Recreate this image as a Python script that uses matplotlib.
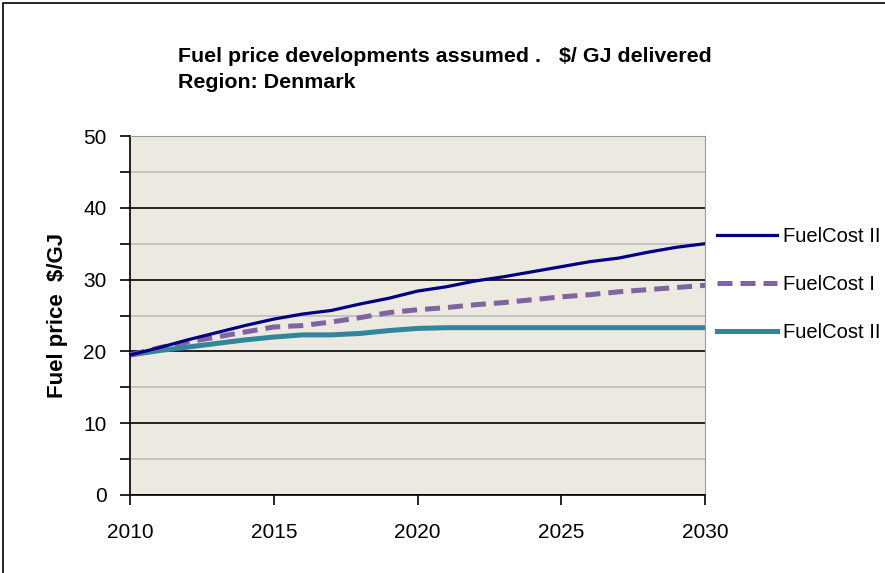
import matplotlib.pyplot as plt
from matplotlib.patches import Rectangle

plt.rcParams['font.family'] = ['Liberation Sans', 'DejaVu Sans']

years = list(range(2010, 2031))
fuel_cost_a = [19.5, 20.5, 21.6, 22.6, 23.6, 24.5, 25.2, 25.7, 26.6, 27.4, 28.4,
               29.0, 29.8, 30.4, 31.1, 31.8, 32.5, 33.0, 33.8, 34.5, 35.0]
fuel_cost_b = [19.5, 20.5, 21.3, 22.0, 22.7, 23.4, 23.6, 24.1, 24.7, 25.4, 25.8,
               26.1, 26.5, 26.8, 27.2, 27.6, 27.9, 28.3, 28.6, 28.9, 29.2]
fuel_cost_c = [19.5, 20.1, 20.6, 21.1, 21.6, 22.0, 22.3, 22.3, 22.5, 22.9, 23.2,
               23.3, 23.3, 23.3, 23.3, 23.3, 23.3, 23.3, 23.3, 23.3, 23.3]
labels = ['FuelCost II', 'FuelCost I', 'FuelCost II']

fig = plt.figure(figsize=(8.85, 5.73), dpi=100)
ax = fig.add_axes([130 / 885, 78 / 573, 575 / 885, 359 / 573])
ax.set_facecolor('#ECEAE0')

# outer frame, runs off the right and bottom edges
fig.patches.append(Rectangle((3 / 885, -0.1), 1.2, 1.1 - 3 / 573, transform=fig.transFigure,
                             fill=False, edgecolor='black', linewidth=1.2))

ax.plot(years, fuel_cost_a, color='#000080', lw=2.3, label=labels[0], zorder=4)
ax.plot(years, fuel_cost_b, color='#8064A2', lw=3.6, ls=(0, (3, 1.6)), label=labels[1], zorder=3)
ax.plot(years, fuel_cost_c, color='#31859C', lw=3.6, label=labels[2], zorder=2)

ax.set_xlim(2010, 2030)
ax.set_ylim(0, 50)
ax.set_xticks(range(2010, 2031, 5))
ax.set_yticks(range(0, 51, 10))
ax.set_yticks(range(5, 50, 10), minor=True)
ax.grid(True, axis='y', which='major', color='black', lw=1.2)
ax.grid(True, axis='y', which='minor', color='#BDBDBD', lw=1.2)
ax.set_axisbelow(True)
ax.tick_params(axis='both', which='both', direction='out', length=7, width=1.2,
               labelsize=15, color='black')
ax.tick_params(axis='x', pad=13)
ax.tick_params(axis='y', pad=10)
for s in ['top', 'right']:
    ax.spines[s].set_color('#9A9A9A')
for s in ['left', 'bottom']:
    ax.spines[s].set_color('black')
    ax.spines[s].set_linewidth(1.2)

ax.set_ylabel('Fuel price  $/GJ', fontsize=16, fontweight='bold', labelpad=11)

fig.text(178 / 885, 1 - 57 / 573, 'Fuel price developments assumed .   $/ GJ delivered',
         fontsize=15.4, fontweight='bold', va='center', ha='left')
fig.text(178 / 885, 1 - 82 / 573, 'Region: Denmark',
         fontsize=15.4, fontweight='bold', va='center', ha='left')

ax.legend(loc='upper left', bbox_to_anchor=(709 / 885, 1 - 219 / 573),
          bbox_transform=fig.transFigure, frameon=False, fontsize=14.5,
          handlelength=3.0, handletextpad=0.25, labelspacing=1.45, borderaxespad=0)

fig.savefig('out.png', dpi=100)
